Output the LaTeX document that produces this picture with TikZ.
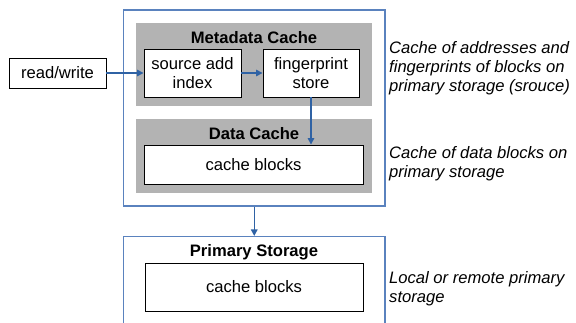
\documentclass[tikz,border=0pt]{standalone}
\usepackage{fontspec}
\setmainfont{Liberation Sans}
\usetikzlibrary{arrows.meta}
\definecolor{grayfill}{HTML}{B3B3B3}
\definecolor{outerblue}{HTML}{5A82BE}
\definecolor{arrowblue}{HTML}{2F62A4}
\begin{document}
\begin{tikzpicture}[x=1pt,y=-1pt,
  every node/.style={font=\fontsize{16.6}{19}\selectfont},
  whitebox/.style={draw=black, line width=0.9pt, fill=white, inner sep=0pt, align=center},
  graybox/.style={fill=grayfill, inner sep=0pt},
  outerbox/.style={draw=outerblue, line width=1.1pt, inner sep=0pt},
  title/.style={font=\fontsize{16.6}{19}\selectfont\bfseries, inner sep=0pt},
  note/.style={font=\fontsize{16.6}{19.3}\selectfont\itshape, align=left, anchor=north west, inner sep=0pt},
  flow/.style={draw=arrowblue, line width=1.5pt, -{Triangle[length=6.5pt,width=6.5pt]}}
]
\clip (0,0) rectangle (576,322);
\fill[white] (0,0) rectangle (576,322);
% outer cache box
\node[outerbox, minimum width=261.5pt, minimum height=196pt] (outer) at (254.25,108) {};
\node[graybox, minimum width=236pt, minimum height=83pt] (meta) at (254,64.5) {};
\node[graybox, minimum width=236pt, minimum height=74pt] (data) at (254,156) {};
\node[title] (metat) at (254,38) {Metadata Cache};
\node[title] (datat) at (254,134) {Data Cache};
\node[whitebox, minimum width=97pt, minimum height=30pt] (rw) at (57.5,73) {read/write};
\node[whitebox, minimum width=97pt, minimum height=48pt] (src) at (192.5,73) {source add\\index};
\node[whitebox, minimum width=96pt, minimum height=48pt] (fp) at (311,73) {fingerprint\\store};
\node[whitebox, minimum width=219pt, minimum height=39pt] (cb) at (253.5,164.5) {cache blocks};
% primary storage
\node[outerbox, minimum width=261.5pt, minimum height=100pt] (prim) at (254.25,286.5) {};
\node[title] (primt) at (254,252) {Primary Storage};
\node[whitebox, minimum width=218pt, minimum height=48pt] (pcb) at (254,287) {cache blocks};
% arrows
\draw[flow] (rw.east) -- (src.west);
\draw[flow] (src.east) -- (fp.west);
\draw[flow] (fp.south) -- (fp.south |- cb.north);
\draw[flow] (outer.south) -- (prim.north);
% notes
\node[note] (n1) at (389,41) {Cache of addresses and\\fingerprints of blocks on\\primary storage (srouce)};
\node[note] (n2) at (389,146) {Cache of data blocks on\\primary storage};
\node[note] (n3) at (389,271) {Local or remote primary\\storage};
\end{tikzpicture}
\end{document}
